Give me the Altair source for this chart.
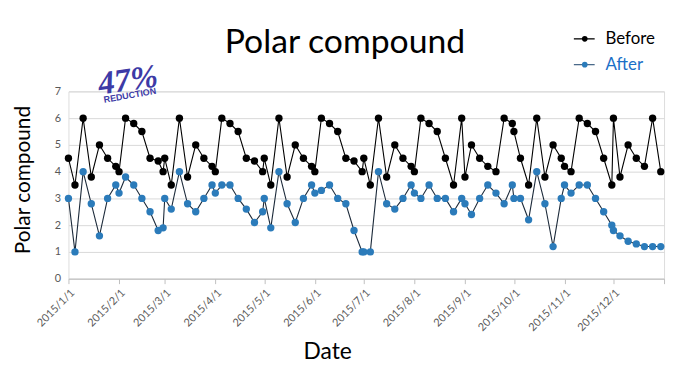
import altair as alt
import pandas as pd

# ---- data ----
months = list(range(1, 13))
day_marks = [1, 5, 10, 15, 20, 25, 30]
feb_marks = [1, 5, 10, 15, 20, 25, 28]

before = [
    4.5, 3.5, 6.0, 3.8, 5.0, 4.5, 4.2,   # Jan
    4.0, 6.0, 5.8, 5.5, 4.5, 4.4, 4.0,   # Feb
    4.5, 3.5, 6.0, 3.8, 5.0, 4.5, 4.2,   # Mar
    4.0, 6.0, 5.8, 5.5, 4.5, 4.4, 4.0,   # Apr
    4.5, 3.5, 6.0, 3.8, 5.0, 4.5, 4.2,   # May
    4.0, 6.0, 5.8, 5.5, 4.5, 4.4, 4.0,   # Jun
    4.5, 3.5, 6.0, 3.8, 5.0, 4.5, 4.2,   # Jul
    4.0, 6.0, 5.8, 5.5, 4.5, 3.5, 6.0,   # Aug
    3.8, 5.0, 4.5, 4.2, 4.0, 6.0, 5.8,   # Sep
    5.5, 4.5, 3.5, 6.0, 3.8, 5.0, 4.5,   # Oct
    4.2, 4.0, 6.0, 5.8, 5.5, 4.5, 3.5,   # Nov
    6.0, 3.8, 5.0, 4.5, 4.2, 6.0, 4.0,   # Dec
]
after = [
    3.0, 1.0, 4.0, 2.8, 1.6, 3.0, 3.5,   # Jan
    3.2, 3.8, 3.5, 3.0, 2.5, 1.8, 1.9,   # Feb
    3.0, 2.6, 4.0, 2.8, 2.5, 3.0, 3.5,   # Mar
    3.2, 3.5, 3.5, 3.0, 2.6, 2.1, 2.5,   # Apr
    3.0, 1.9, 4.0, 2.8, 2.1, 3.0, 3.5,   # May
    3.2, 3.3, 3.5, 3.0, 2.8, 1.8, 1.0,   # Jun
    1.0, 1.0, 4.0, 2.8, 2.6, 3.0, 3.5,   # Jul
    3.2, 3.0, 3.5, 3.0, 3.0, 2.5, 3.0,   # Aug
    2.8, 2.4, 3.0, 3.5, 3.2, 2.8, 3.5,   # Sep
    3.0, 3.0, 2.2, 4.0, 2.8, 1.2, 3.0,   # Oct
    3.5, 3.2, 3.5, 3.5, 3.0, 2.5, 2.0,   # Nov
    1.8, 1.6, 1.4, 1.3, 1.2, 1.2, 1.2,   # Dec
]
y_ticks = [0, 1, 2, 3, 4, 5, 6, 7]

dates = []
for m in months:
    for d in (feb_marks if m == 2 else day_marks):
        dates.append(f"2015-{m:02d}-{d:02d}")

df_before = pd.DataFrame({"date": dates, "value": before})
df_after = pd.DataFrame({"date": dates, "value": after})

FONT = "Lato"
BLUE_DOT = "#2b7bba"
BLUE_TXT = "#1a6fc7"
LINE_AFTER = "#1c2a3a"

x_ticks = [alt.DateTime(year=2015, month=m, date=1, utc=True) for m in months] + \
          [alt.DateTime(year=2016, month=1, date=1, utc=True)]

x_enc = alt.X(
    "date:T",
    scale=alt.Scale(type="utc", domain=[alt.DateTime(year=2015, month=1, date=1, utc=True),
                                        alt.DateTime(year=2016, month=1, date=1, utc=True)]),
    axis=alt.Axis(
        values=x_ticks,
        labelExpr="datum.value >= 1451606400000 ? '' : utcFormat(datum.value, '%Y/%-m/%-d')",
        labelAngle=315, labelFontSize=11, labelFont=FONT, labelColor="#595959",
        labelPadding=3,
        domainColor="#bfbfbf", tickColor="#bfbfbf", tickSize=5, grid=False,
        title="Date", titleFont=FONT, titleFontSize=23, titleFontWeight="normal",
        titleColor="#000000", titleX=261, titleY=81, titleBaseline="alphabetic",
        titleAlign="center",
    ),
)
y_enc = alt.Y(
    "value:Q",
    scale=alt.Scale(domain=[0, 7], nice=False),
    axis=alt.Axis(
        values=y_ticks, grid=True, gridColor="#d9d9d9", domain=False, ticks=False,
        labelColor="#595959", labelFontSize=11, labelFont=FONT, labelPadding=8,
        title="Polar compound", titleFont=FONT, titleFontSize=21, titleFontWeight="normal",
        titleColor="#000000", titleX=-39, titleY=89, titleBaseline="alphabetic",
        titleAngle=270, titleAlign="center",
    ),
)

line_after = alt.Chart(df_after).mark_line(strokeWidth=1.1, color=LINE_AFTER).encode(x=x_enc, y=y_enc)
line_before = alt.Chart(df_before).mark_line(strokeWidth=1.1, color="#000000").encode(x=x_enc, y=y_enc)
pts_after = alt.Chart(df_after).mark_circle(size=55, opacity=1, color=BLUE_DOT).encode(x=x_enc, y=y_enc)
pts_before = alt.Chart(df_before).mark_circle(size=55, opacity=1, color="#000000").encode(x=x_enc, y=y_enc)

one = pd.DataFrame({"k": [0]})

title = alt.Chart(one).mark_text(font=FONT, fontSize=34, align="center", baseline="alphabetic",
                                 color="#000000").encode(
    x=alt.value(279), y=alt.value(-38.5), text=alt.value("Polar compound"))


def legend_entry(label, yy, line_color, dot_color, text_color):
    r = alt.Chart(one).mark_rule(color=line_color, strokeWidth=1.3).encode(
        x=alt.value(510), x2=alt.value(531), y=alt.value(yy))
    d = alt.Chart(one).mark_circle(size=32, opacity=1, color=dot_color).encode(
        x=alt.value(521), y=alt.value(yy))
    t = alt.Chart(one).mark_text(font=FONT, fontSize=17, align="left", baseline="middle",
                                 color=text_color).encode(
        x=alt.value(542), y=alt.value(yy), text=alt.value(label))
    return [r, d, t]


leg = legend_entry("Before", -53, "#000000", "#000000", "#000000") + \
      legend_entry("After", -27, "#4a6a8a", BLUE_DOT, BLUE_TXT)

badge1 = alt.Chart(one).mark_text(font="Liberation Serif", fontSize=33, fontWeight="bold",
                                  fontStyle="italic", align="center", baseline="middle",
                                  angle=352, color="#3d3aa6").encode(
    x=alt.value(60), y=alt.value(-11), text=alt.value("47%"))
badge2 = alt.Chart(one).mark_text(font="Liberation Sans", fontSize=9, fontWeight="bold",
                                  align="center", baseline="middle", angle=350,
                                  color="#3d3aa6").encode(
    x=alt.value(62), y=alt.value(4), text=alt.value("REDUCTION"))

chart = alt.layer(line_after, line_before, pts_after, pts_before, title, *leg,
                  badge1, badge2).properties(
    width=601, height=189,
    padding={"left": 61, "top": 82.5, "right": 4, "bottom": 90},
    autosize=alt.AutoSizeParams(type="none"),
).configure_view(strokeWidth=0).configure(background="white")

chart.save("out.html", embed_options={"renderer": "svg", "actions": False})
